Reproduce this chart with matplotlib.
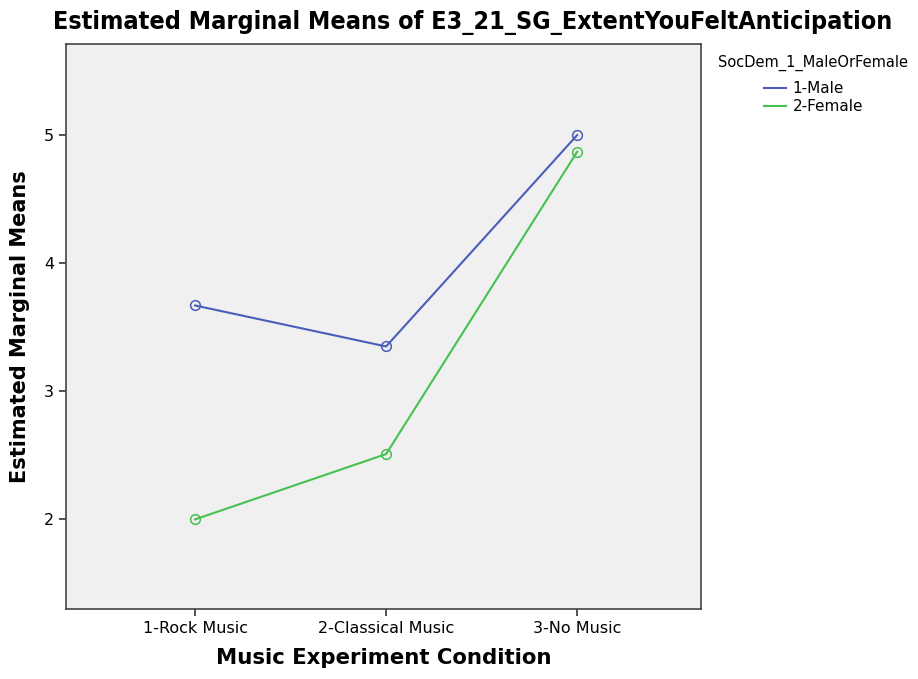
import matplotlib
matplotlib.use("Agg")
import matplotlib.pyplot as plt
from matplotlib.lines import Line2D
import numpy as np

# --- data
conditions = ["1-Rock Music", "2-Classical Music", "3-No Music"]
male_means = [3.67, 3.35, 5.00]
female_means = [2.00, 2.51, 4.87]
y_ticks = [2, 3, 4, 5]

blue = '#4a5db8'
green = '#46c150'

plt.rcParams['font.family'] = ['DejaVu Sans']

fig = plt.figure(figsize=(9.18, 6.79), dpi=100)
ax = fig.add_axes([0.072, 0.103, 0.692, 0.832])
ax.set_facecolor('#f0f0f0')

x = np.arange(len(conditions))
ax.plot(x, male_means, color=blue, lw=1.5, marker='o', ms=7,
        mfc='none', mec=blue, mew=1.1)
ax.plot(x, female_means, color=green, lw=1.5, marker='o', ms=7,
        mfc='none', mec=green, mew=1.1)

ax.set_xlim(-0.675, 2.65)
ax.set_ylim(1.30, 5.71)
ax.set_xticks(x)
ax.set_xticklabels(conditions, fontsize=11.5)
ax.set_yticks(y_ticks)
ax.tick_params(axis='y', labelsize=11.5)
ax.tick_params(direction='out', length=5, width=1.2, color='#333333')

for s in ax.spines.values():
    s.set_color('#444444')
    s.set_linewidth(1.2)

fig.text(0.515, 0.967, 'Estimated Marginal Means of E3_21_SG_ExtentYouFeltAnticipation',
         fontsize=18, fontweight='bold', ha='center', va='center', stretch='condensed')
ax.set_xlabel('Music Experiment Condition', fontsize=15.3, fontweight='bold', labelpad=9)
ax.set_ylabel('Estimated Marginal Means', fontsize=15, fontweight='bold', labelpad=10)

handles = [Line2D([], [], color=blue, lw=1.5), Line2D([], [], color=green, lw=1.5)]
leg = ax.legend(handles, ['1-Male', '2-Female'], title='SocDem_1_MaleOrFemale',
                loc='upper left', bbox_to_anchor=(1.005, 1.005), frameon=False,
                fontsize=11, title_fontsize=10.5, handlelength=1.5,
                handletextpad=0.4, labelspacing=0.2)
leg._legend_box.sep = 7

fig.savefig('out.png', dpi=100)
